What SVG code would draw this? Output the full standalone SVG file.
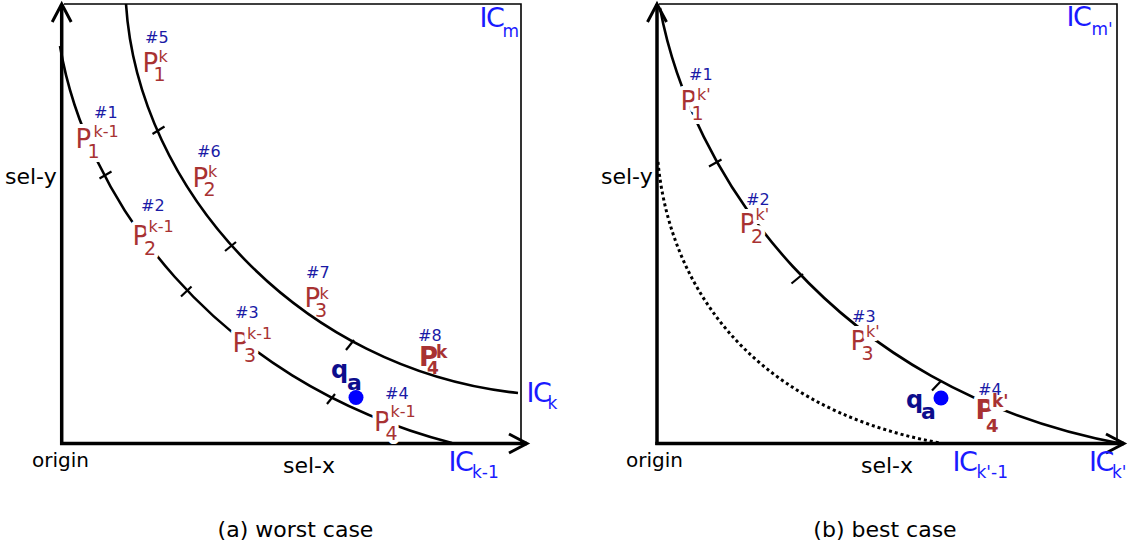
<svg xmlns="http://www.w3.org/2000/svg" width="1142" height="552" viewBox="0 0 1142 552">
<style>
text{font-family:"DejaVu Sans","Liberation Sans",sans-serif}
.axis{stroke:#000;stroke-width:3.5;fill:none}
.box{stroke:#000;stroke-width:1.6;fill:none}
.curve{stroke:#000;stroke-width:2.6;fill:none}
.dot{stroke:#000;stroke-width:3;fill:none;stroke-dasharray:3 3}
.tick{stroke:#000;stroke-width:2.2}
.p{fill:#a83232}
.h{fill:#1a1aa6;font-size:16px}
.ic{fill:#1a1aff}
.q{fill:#0d0d8c;font-weight:bold}
.halo{stroke:#fff;stroke-width:8;paint-order:stroke;stroke-linejoin:round}
.t{fill:#000}
.b{font-weight:bold}
</style>
<defs>
<marker id="arrow" markerUnits="userSpaceOnUse" viewBox="-22 -12 24 24" markerWidth="24" markerHeight="24" refX="0" refY="0" orient="auto" overflow="visible">
<path d="M-18,-9.5 L0,0 L-18,9.5" fill="none" stroke="#000" stroke-width="3"/>
</marker>
</defs>
<rect width="1142" height="552" fill="#fff"/>

<g id="panel-a-frame">
<polyline class="box" points="64,4 521,4 521,443.5"/>
<line class="axis" x1="61.7" y1="445" x2="61.7" y2="4" marker-end="url(#arrow)"/>
<line class="axis" x1="60" y1="443.5" x2="527" y2="443.5" marker-end="url(#arrow)"/>
</g>
<g id="panel-b-frame">
<polyline class="box" points="659,4 1117,4 1117,443.5"/>
<line class="axis" x1="657" y1="445" x2="657" y2="4" marker-end="url(#arrow)"/>
<line class="axis" x1="655.3" y1="443.5" x2="1124" y2="443.5" marker-end="url(#arrow)"/>
</g>

<g id="connectors">
<path id="ic-k-1" class="curve" d="M60,46 C85,195 210,380 452,443"/>
<path id="ic-k" class="curve" d="M126,4 C138,190 300,370 518,393"/>
<path id="ic-kp" class="curve" d="M660,8 C690,170 830,390 1123,444"/>
<path id="ic-kp-1" class="dot" d="M658,162 C668,270 735,405 940,443"/>
<line class="tick" x1="99.5" y1="178.5" x2="111.5" y2="171.5"/>
<line class="tick" x1="181" y1="296.5" x2="191.5" y2="286.5"/>
<line class="tick" x1="327" y1="404" x2="335" y2="394"/>
<line class="tick" x1="152.5" y1="134" x2="164.5" y2="126.5"/>
<line class="tick" x1="225" y1="251" x2="236" y2="242"/>
<line class="tick" x1="346" y1="350" x2="354" y2="340"/>
<line class="tick" x1="709" y1="166.5" x2="721.5" y2="159.5"/>
<line class="tick" x1="791.5" y1="283.5" x2="803" y2="274"/>
<line class="tick" x1="932" y1="390.5" x2="941" y2="381"/>
</g>

<g id="p1-k-1"><text class="p halo"><tspan x="75.5" y="148" font-size="26">P</tspan><tspan x="87.5" y="157.5" font-size="19">1</tspan><tspan x="93.5" y="137" font-size="16">k-1</tspan></text><text class="h" x="94" y="118">#1</text></g>
<g id="p2-k-1"><text class="p halo"><tspan x="132.5" y="245" font-size="26">P</tspan><tspan x="144" y="255" font-size="19">2</tspan><tspan x="148.5" y="232" font-size="16">k-1</tspan></text><text class="h" x="141" y="211">#2</text></g>
<g id="p3-k-1"><text class="p halo"><tspan x="232.5" y="352" font-size="26">P</tspan><tspan x="244" y="362" font-size="19">3</tspan><tspan x="247" y="339" font-size="16">k-1</tspan></text><text class="h" x="235" y="318">#3</text></g>
<g id="p4-k-1"><text class="p halo"><tspan x="374" y="431" font-size="26">P</tspan><tspan x="385.5" y="440" font-size="19">4</tspan><tspan x="390.5" y="417" font-size="16">k-1</tspan></text><text class="h" x="385" y="399">#4</text></g>
<g id="p1-k"><text class="p"><tspan x="142.5" y="72" font-size="26">P</tspan><tspan x="153.5" y="80.5" font-size="19">1</tspan><tspan x="158.5" y="62" font-size="16">k</tspan></text><text class="h" x="145" y="43">#5</text></g>
<g id="p2-k"><text class="p"><tspan x="192.5" y="187" font-size="26">P</tspan><tspan x="203.5" y="196" font-size="19">2</tspan><tspan x="208" y="177" font-size="16">k</tspan></text><text class="h" x="197" y="157">#6</text></g>
<g id="p3-k"><text class="p"><tspan x="304.5" y="307" font-size="26">P</tspan><tspan x="315" y="317" font-size="19">3</tspan><tspan x="319.5" y="299" font-size="16">k</tspan></text><text class="h" x="306" y="278">#7</text></g>
<g id="p4-k"><text class="p b"><tspan x="419" y="366" font-size="26">P</tspan><tspan x="427" y="374" font-size="17">4</tspan><tspan x="436" y="358" font-size="17">k</tspan></text><text class="h" x="418" y="341">#8</text></g>

<g id="qa-left"><text class="q"><tspan x="331" y="378" font-size="24">q</tspan><tspan x="347" y="390" font-size="22">a</tspan></text><circle cx="356" cy="397.5" r="7.5" fill="#0000ff"/></g>

<g id="p1-kp"><text class="p halo"><tspan x="680.5" y="110" font-size="26">P</tspan><tspan x="691.5" y="120" font-size="19">1</tspan><tspan x="697" y="100" font-size="16">k'</tspan></text><text class="h" x="689" y="80">#1</text></g>
<g id="p2-kp"><text class="p halo"><tspan x="739.5" y="233" font-size="26">P</tspan><tspan x="751" y="243" font-size="19">2</tspan><tspan x="755.5" y="220" font-size="16">k'</tspan></text><text class="h" x="746" y="205">#2</text></g>
<g id="p3-kp"><text class="p halo"><tspan x="850.5" y="350" font-size="26">P</tspan><tspan x="861.5" y="360" font-size="19">3</tspan><tspan x="866" y="337" font-size="16">k'</tspan></text><text class="h" x="852" y="322">#3</text></g>
<g id="p4-kp"><text class="p b halo"><tspan x="975.5" y="419" font-size="26">P</tspan><tspan x="986" y="432" font-size="18">4</tspan><tspan x="992" y="407" font-size="17">k'</tspan></text><text class="h" x="978" y="395">#4</text></g>

<g id="qa-right"><text class="q"><tspan x="906" y="408" font-size="24">q</tspan><tspan x="921" y="419" font-size="22">a</tspan></text><circle cx="941" cy="398" r="7.5" fill="#0000ff"/></g>

<g id="ic-labels">
<text class="ic"><tspan x="479.5" y="27" font-size="27" letter-spacing="-1.5">IC</tspan><tspan x="502.5" y="37" font-size="17">m</tspan></text>
<text class="ic"><tspan x="526.5" y="402" font-size="27" letter-spacing="-1.5">IC</tspan><tspan x="547.5" y="409" font-size="17">k</tspan></text>
<text class="ic"><tspan x="448.5" y="471" font-size="27" letter-spacing="-1.5">IC</tspan><tspan x="472" y="478" font-size="17">k-1</tspan></text>
<text class="ic"><tspan x="1066.5" y="26" font-size="27" letter-spacing="-1.5">IC</tspan><tspan x="1091.5" y="35" font-size="17">m'</tspan></text>
<text class="ic"><tspan x="952.5" y="471" font-size="27" letter-spacing="-1.5">IC</tspan><tspan x="976.5" y="478" font-size="17">k'-1</tspan></text>
<text class="ic"><tspan x="1089" y="471" font-size="27" letter-spacing="-1.5">IC</tspan><tspan x="1112" y="478" font-size="17">k'</tspan></text>
</g>

<g id="axis-labels">
<text class="t" x="5" y="184" font-size="22">sel-y</text>
<text class="t" x="32" y="467" font-size="20">origin</text>
<text class="t" x="283" y="473" font-size="22">sel-x</text>
<text class="t" x="601" y="184" font-size="22">sel-y</text>
<text class="t" x="626" y="467" font-size="20">origin</text>
<text class="t" x="861" y="473" font-size="22">sel-x</text>
</g>
<g id="captions">
<text class="t" x="295.5" y="537" font-size="22" text-anchor="middle">(a) worst case</text>
<text class="t" x="885" y="537" font-size="22" text-anchor="middle">(b) best case</text>
</g>
</svg>
